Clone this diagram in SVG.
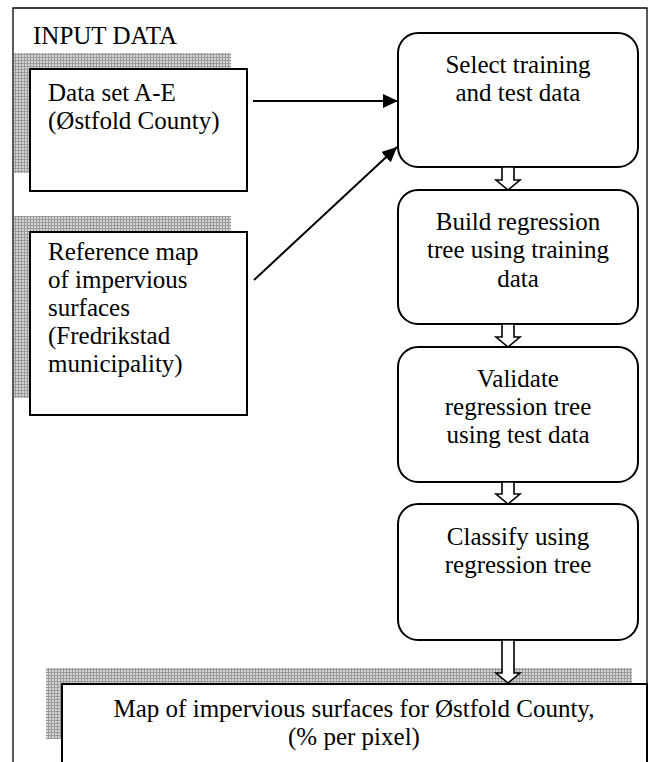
<svg xmlns="http://www.w3.org/2000/svg" width="652" height="762" viewBox="0 0 652 762" font-family="'Liberation Serif', 'Times New Roman', serif" font-size="25">
  <style>
    .frame { fill: none; stroke: #000; stroke-width: 1.3; }
    .shadow { fill: url(#dither); }
    .box { fill: #fff; stroke: #000; stroke-width: 2; }
    .step { fill: #fff; stroke: #000; stroke-width: 2; }
    .hollow { fill: #fff; stroke: #000; stroke-width: 1.6; stroke-linejoin: miter; }
    .line { fill: none; stroke: #000; stroke-width: 2; }
    .c { text-anchor: middle; }
  </style>
  <defs>
    <pattern id="dither" width="3" height="3" patternUnits="userSpaceOnUse">
      <rect width="3" height="3" fill="#d4d4d4"/>
      <rect width="3" height="1" fill="#9a9a9a"/>
      <rect width="1" height="3" fill="#9a9a9a"/>
    </pattern>
    <marker id="head" markerWidth="16" markerHeight="14" refX="15" refY="7" orient="auto" markerUnits="userSpaceOnUse">
      <path d="M0,0 L15,7 L0,14 Z" fill="#000"/>
    </marker>
  </defs>

  <!-- outer frame -->
  <path class="frame" d="M13,762 L13,8 L647,8 L647,762"/>
  <text x="33" y="44" style="font-family:'Liberation Serif',serif;font-size:25px">INPUT DATA</text>

  <!-- input: data set -->
  <g id="dataset">
    <rect class="shadow" x="14" y="53" width="217" height="120"/>
    <rect class="box" x="30" y="69" width="217" height="122"/>
    <text x="48" y="101" style="font-family:'Liberation Serif',serif;font-size:25px">Data set A-E</text>
    <text x="48" y="129" style="font-family:'Liberation Serif',serif;font-size:25px">(Østfold County)</text>
  </g>

  <!-- input: reference map -->
  <g id="reference">
    <rect class="shadow" x="14" y="216" width="217" height="182"/>
    <rect class="box" x="30" y="232" width="217" height="183"/>
    <text x="48" y="260" style="font-family:'Liberation Serif',serif;font-size:25px">Reference map</text>
    <text x="48" y="288" style="font-family:'Liberation Serif',serif;font-size:25px">of impervious</text>
    <text x="48" y="316" style="font-family:'Liberation Serif',serif;font-size:25px">surfaces</text>
    <text x="48" y="344" style="font-family:'Liberation Serif',serif;font-size:25px">(Fredrikstad</text>
    <text x="48" y="372" style="font-family:'Liberation Serif',serif;font-size:25px">municipality)</text>
  </g>

  <!-- processing steps -->
  <g id="select">
    <rect class="step" x="398" y="33" width="240" height="134" rx="20"/>
    <text class="c" x="518" y="73" style="font-family:'Liberation Serif',serif;font-size:25px">Select training</text>
    <text class="c" x="518" y="101" style="font-family:'Liberation Serif',serif;font-size:25px">and test data</text>
  </g>
  <g id="build">
    <rect class="step" x="398" y="190" width="240" height="134" rx="20"/>
    <text class="c" x="518" y="230" style="font-family:'Liberation Serif',serif;font-size:25px">Build regression</text>
    <text class="c" x="518" y="258" style="font-family:'Liberation Serif',serif;font-size:25px">tree using training</text>
    <text class="c" x="518" y="287" style="font-family:'Liberation Serif',serif;font-size:25px">data</text>
  </g>
  <g id="validate">
    <rect class="step" x="398" y="347" width="240" height="135" rx="20"/>
    <text class="c" x="518" y="387" style="font-family:'Liberation Serif',serif;font-size:25px">Validate</text>
    <text class="c" x="518" y="415" style="font-family:'Liberation Serif',serif;font-size:25px">regression tree</text>
    <text class="c" x="518" y="443" style="font-family:'Liberation Serif',serif;font-size:25px">using test data</text>
  </g>
  <g id="classify">
    <rect class="step" x="398" y="504" width="240" height="136" rx="20"/>
    <text class="c" x="518" y="545" style="font-family:'Liberation Serif',serif;font-size:25px">Classify using</text>
    <text class="c" x="518" y="573" style="font-family:'Liberation Serif',serif;font-size:25px">regression tree</text>
  </g>

  <!-- output map -->
  <g id="output">
    <rect class="shadow" x="46" y="668" width="586" height="71"/>
    <rect class="box" x="62" y="684" width="585" height="90"/>
    <text class="c" x="354" y="717" style="font-family:'Liberation Serif',serif;font-size:25px">Map of impervious surfaces for Østfold County,</text>
    <text class="c" x="354" y="745" style="font-family:'Liberation Serif',serif;font-size:25px">(% per pixel)</text>
  </g>

  <!-- connectors -->
  <g id="connectors">
    <line class="line" x1="253" y1="101" x2="398" y2="101" marker-end="url(#head)"/>
    <line class="line" x1="254" y1="280" x2="397" y2="147" marker-end="url(#head)"/>
    <path class="hollow" d="M502,167 L514,167 L514,180 L520,180 L508,190 L496,180 L502,180 Z"/>
    <path class="hollow" d="M502,324 L514,324 L514,337 L520,337 L508,347 L496,337 L502,337 Z"/>
    <path class="hollow" d="M502,482 L514,482 L514,494 L520,494 L508,504 L496,494 L502,494 Z"/>
    <path class="hollow" d="M502,640 L514,640 L514,673 L520,673 L508,683 L496,673 L502,673 Z"/>
  </g>
</svg>
